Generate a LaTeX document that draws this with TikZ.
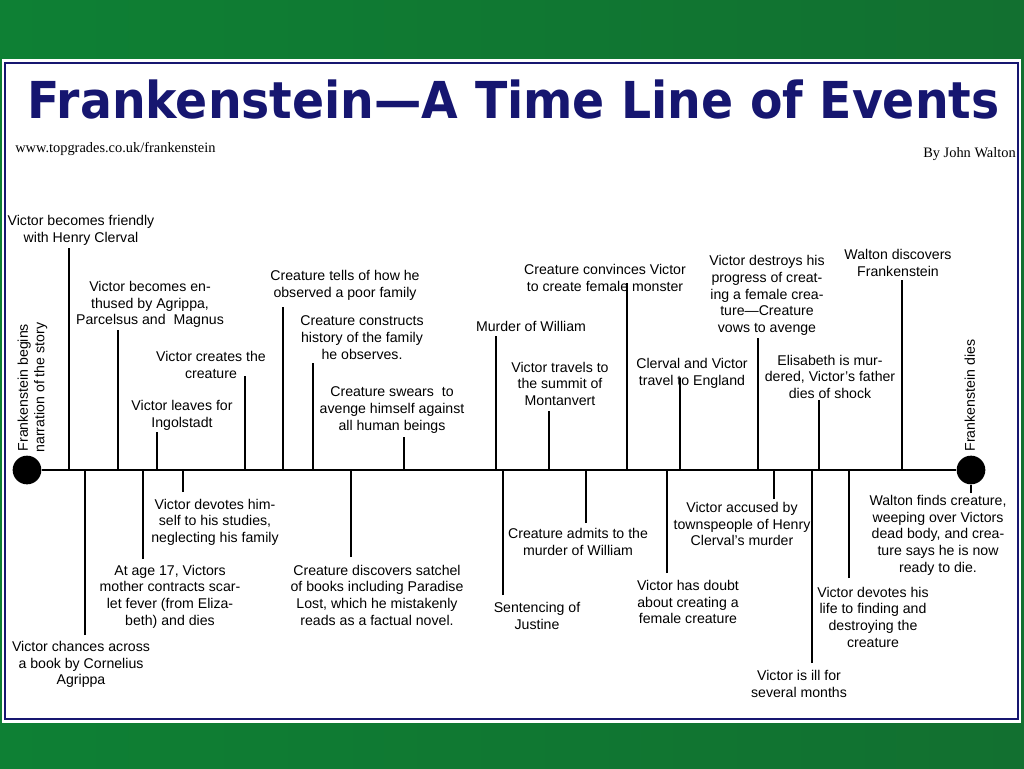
\documentclass[tikz,border=0pt]{standalone}
\usepackage{fontspec}
\setmainfont{Liberation Sans}
\newfontfamily\titlefont{DejaVu Sans}
\newfontfamily\seriffont{Liberation Serif}
\usepackage{graphicx}
\usepackage{tikz}
\usetikzlibrary{shapes,arrows,positioning,backgrounds}
\usepackage{xcolor}
\definecolor{navy}{RGB}{22,22,112}
\definecolor{greenA}{RGB}{14,128,52}
\definecolor{greenB}{RGB}{6,72,38}
\definecolor{greenC}{RGB}{18,112,48}

\begin{document}
\begin{tikzpicture}[x=0.75pt, y=-0.75pt]
      \tikzstyle{event} = [align=center, inner sep=0pt, yshift=-2pt, font=\fontsize{10.6}{12.5}\selectfont, execute at begin node=\strut, execute at end node=\strut]
      \tikzstyle{tick} = [line width=0.8pt]
      \tikzstyle{dot} = [circle, fill=black, inner sep=0pt, minimum size=21.5pt]

      \useasboundingbox (0,0) rectangle (1024,768);
      \shade[left color=greenA, middle color=greenB, right color=greenC] (0,0) rectangle (1024,768);
      \fill[white] (2,59) rectangle (1021,723);
      \draw[navy, line width=1.4pt] (5,63) rectangle (1018,719);

      \node[anchor=base, inner sep=0pt, text=navy] (title) at (513.5,118) {\resizebox{729pt}{29pt}{\titlefont\bfseries Frankenstein—A Time Line of Events}};
      \node[anchor=base west, inner sep=0pt, font=\seriffont\fontsize{10.8}{12}\selectfont] (site) at (15,152) {www.topgrades.co.uk/frankenstein};
      \node[anchor=base east, inner sep=0pt, font=\seriffont\fontsize{10.8}{12}\selectfont] (author) at (1016,157) {By John Walton};

      % time line
      \node[dot] (start) at (27,470) {};
      \node[dot] (end) at (971,470) {};
      \draw[line width=1pt] (start) -- (end);
      \node[event, rotate=90] (begins) at (33.5,385) {Frankenstein begins\\narration of the story};
      \node[event, rotate=90] (dies) at (971.5,393) {Frankenstein dies};

      % events above the line
      \node[event] (u1) at (81,228.5) {Victor becomes friendly\\with Henry Clerval};
      \node[event] (u2) at (150,303) {Victor becomes en-\\thused by Agrippa,\\Parcelsus and~ Magnus};
      \node[event] (u3) at (182,413.5) {Victor leaves for\\Ingolstadt};
      \node[event] (u4) at (211,364.5) {Victor creates the\\creature};
      \node[event] (u5) at (345,283.5) {Creature tells of how he\\observed a poor family};
      \node[event] (u6) at (362,337.5) {Creature constructs\\history of the family\\he observes.};
      \node[event] (u7) at (392,408.5) {Creature swears~ to\\avenge himself against\\all human beings};
      \node[event] (u8) at (531,325) {Murder of William};
      \node[event] (u9) at (560,383.5) {Victor travels to\\the summit of\\Montanvert};
      \node[event] (u10) at (605,277.5) {Creature convinces Victor\\to create female monster};
      \node[event] (u11) at (692,371.5) {Clerval and Victor\\travel to England};
      \node[event] (u12) at (767,294) {Victor destroys his\\progress of creat-\\ing a female crea-\\ture—Creature\\vows to avenge};
      \node[event] (u13) at (830,376.5) {Elisabeth is mur-\\dered, Victor's father\\dies of shock};
      \node[event] (u14) at (898,262.5) {Walton discovers\\Frankenstein};

      \coordinate (tu1) at (69,248);
      \coordinate (tu2) at (118,330);
      \coordinate (tu3) at (157,432);
      \coordinate (tu4) at (245,376);
      \coordinate (tu5) at (283,307);
      \coordinate (tu6) at (313,363);
      \coordinate (tu7) at (404,437);
      \coordinate (tu8) at (496,336);
      \coordinate (tu9) at (549,411);
      \coordinate (tu10) at (627,283);
      \coordinate (tu11) at (680,378);
      \coordinate (tu12) at (758,338);
      \coordinate (tu13) at (819,400);
      \coordinate (tu14) at (902,280);

      \draw[tick] (tu1) -- (tu1 |- start);
      \draw[tick] (tu2) -- (tu2 |- start);
      \draw[tick] (tu3) -- (tu3 |- start);
      \draw[tick] (tu4) -- (tu4 |- start);
      \draw[tick] (tu5) -- (tu5 |- start);
      \draw[tick] (tu6) -- (tu6 |- start);
      \draw[tick] (tu7) -- (tu7 |- start);
      \draw[tick] (tu8) -- (tu8 |- start);
      \draw[tick] (tu9) -- (tu9 |- start);
      \draw[tick] (tu10) -- (tu10 |- start);
      \draw[tick] (tu11) -- (tu11 |- start);
      \draw[tick] (tu12) -- (tu12 |- start);
      \draw[tick] (tu13) -- (tu13 |- start);
      \draw[tick] (tu14) -- (tu14 |- start);

      % events below the line
      \node[event] (d1) at (81,663) {Victor chances across\\a book by Cornelius\\Agrippa};
      \node[event] (d2) at (170,595) {At age 17, Victors\\mother contracts scar-\\let fever (from Eliza-\\beth) and dies};
      \node[event] (d3) at (215,520.5) {Victor devotes him-\\self to his studies,\\neglecting his family};
      \node[event] (d4) at (377,595) {Creature discovers satchel\\of books including Paradise\\Lost, which he mistakenly\\reads as a factual novel.};
      \node[event] (d5) at (537,615.5) {Sentencing of\\Justine};
      \node[event] (d6) at (578,541.5) {Creature admits to the\\murder of William};
      \node[event] (d7) at (688,602) {Victor has doubt\\about creating a\\female creature};
      \node[event] (d8) at (742,524) {Victor accused by\\townspeople of Henry\\Clerval's murder};
      \node[event] (d9) at (799,683.5) {Victor is ill for\\several months};
      \node[event] (d10) at (873,617) {Victor devotes his\\life to finding and\\destroying the\\creature};
      \node[event] (d11) at (938,533.5) {Walton finds creature,\\weeping over Victors\\dead body, and crea-\\ture says he is now\\ready to die.};

      \coordinate (td1) at (85,635);
      \coordinate (td2) at (143,559);
      \coordinate (td3) at (183,492);
      \coordinate (td4) at (351,557);
      \coordinate (td5) at (503,595);
      \coordinate (td6) at (586,523);
      \coordinate (td7) at (667,573);
      \coordinate (td8) at (774,499);
      \coordinate (td9) at (812,663);
      \coordinate (td10) at (849,578);
      \coordinate (td11) at (971,493);

      \draw[tick] (td1) -- (td1 |- start);
      \draw[tick] (td2) -- (td2 |- start);
      \draw[tick] (td3) -- (td3 |- start);
      \draw[tick] (td4) -- (td4 |- start);
      \draw[tick] (td5) -- (td5 |- start);
      \draw[tick] (td6) -- (td6 |- start);
      \draw[tick] (td7) -- (td7 |- start);
      \draw[tick] (td8) -- (td8 |- start);
      \draw[tick] (td9) -- (td9 |- start);
      \draw[tick] (td10) -- (td10 |- start);
      \draw[tick] (td11) -- (end);
    \end{tikzpicture}
\end{document}
